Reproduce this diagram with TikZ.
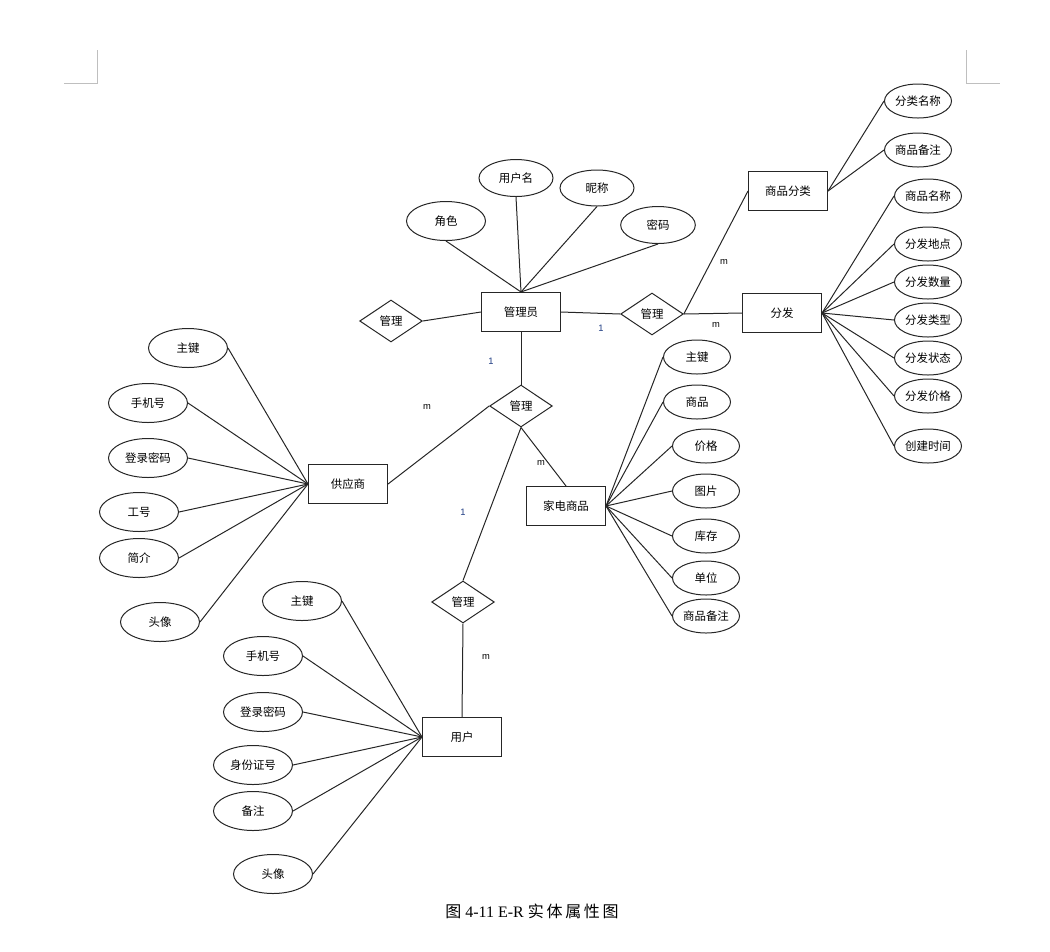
\documentclass[tikz,border=0pt]{standalone}
\usepackage{fontspec}
\setmainfont{Liberation Serif}
\newfontfamily\cjk{Noto Sans CJK SC}
\newfontfamily\lab{Liberation Sans}
\usetikzlibrary{shapes.geometric}
\tikzset{
  ln/.style={draw=black!85, line width=0.75pt},
  ent/.style={rectangle, draw=black!85, line width=0.8pt, minimum width=59.25pt, minimum height=29.25pt, inner sep=0pt, font=\cjk\fontsize{8.6}{10}\selectfont},
  attr/.style={ellipse, draw=black!85, line width=0.75pt, minimum width=59.25pt, minimum height=29.25pt, inner sep=0pt, font=\cjk\fontsize{8.6}{10}\selectfont},
  sattr/.style={ellipse, draw=black!85, line width=0.75pt, minimum width=50.25pt, minimum height=25.5pt, inner sep=0pt, font=\cjk\fontsize{8.6}{10}\selectfont},
  rel/.style={diamond, draw=black!85, line width=0.75pt, minimum width=47pt, minimum height=31.5pt, inner sep=0pt, font=\cjk\fontsize{8.6}{10}\selectfont},
  card/.style={inner sep=0pt, font=\lab\fontsize{7}{8}\selectfont},
  crn/.style={draw=black!25, line width=0.75pt}
}
\begin{document}
\begin{tikzpicture}[x=0.75pt,y=-0.75pt]
\useasboundingbox (0,0) rectangle (1050,951);
% page corner marks
\coordinate (c1a) at (97,50); \coordinate (c1b) at (97,83); \coordinate (c1c) at (64,83);
\draw[crn] (c1a) -- (c1b) -- (c1c);
\coordinate (c2a) at (966,50); \coordinate (c2b) at (966,83); \coordinate (c2c) at (1000,83);
\draw[crn] (c2a) -- (c2b) -- (c2c);

% entities
\node[ent] (admin) at (521,312) {管理员};
\node[ent] (cat) at (788,191) {商品分类};
\node[ent] (dist) at (782,313) {分发};
\node[ent] (sup) at (348,484) {供应商};
\node[ent] (prod) at (566,506) {家电商品};
\node[ent] (user) at (462,737) {用户};

% relationships
\node[rel] (r1) at (391,321) {管理};
\node[rel] (r2) at (652,314) {管理};
\node[rel] (r3) at (521,406) {管理};
\node[rel] (r4) at (463,602) {管理};

% admin attributes
\node[attr] (a1) at (446,221) {角色};
\node[attr, minimum width=55.5pt, minimum height=27.75pt] (a2) at (516,178) {用户名};
\node[attr, minimum width=55.5pt, minimum height=27pt] (a3) at (597,188) {昵称};
\node[attr, minimum width=56pt, minimum height=27.75pt] (a4) at (658,225) {密码};
\foreach \n in {a1,a2,a3,a4} \draw[ln] (\n.south) -- (admin.north);

% category attributes
\node[sattr] (c1) at (918,101) {分类名称};
\node[sattr] (c2) at (918,150) {商品备注};
\foreach \n in {c1,c2} \draw[ln] (cat.east) -- (\n.west);

% distribution attributes
\node[sattr] (d1) at (928,196) {商品名称};
\node[sattr] (d2) at (928,244) {分发地点};
\node[sattr] (d3) at (928,282) {分发数量};
\node[sattr] (d4) at (928,320) {分发类型};
\node[sattr] (d5) at (928,358) {分发状态};
\node[sattr] (d6) at (928,396) {分发价格};
\node[sattr] (d7) at (928,446) {创建时间};
\foreach \n in {d1,d2,d3,d4,d5,d6,d7} \draw[ln] (dist.east) -- (\n.west);

% supplier attributes
\node[attr] (s1) at (188,348) {主键};
\node[attr] (s2) at (148,403) {手机号};
\node[attr] (s3) at (148,458) {登录密码};
\node[attr] (s4) at (139,512) {工号};
\node[attr] (s5) at (139,558) {简介};
\node[attr] (s6) at (160,622) {头像};
\foreach \n in {s1,s2,s3,s4,s5,s6} \draw[ln] (\n.east) -- (sup.west);

% product attributes
\node[sattr] (p1) at (697,357) {主键};
\node[sattr] (p2) at (697,402) {商品};
\node[sattr] (p3) at (706,446) {价格};
\node[sattr] (p4) at (706,491) {图片};
\node[sattr] (p5) at (706,536) {库存};
\node[sattr] (p6) at (706,578) {单位};
\node[sattr] (p7) at (706,616) {商品备注};
\foreach \n in {p1,p2,p3,p4,p5,p6,p7} \draw[ln] (prod.east) -- (\n.west);

% user attributes
\node[attr] (u1) at (302,601) {主键};
\node[attr] (u2) at (263,656) {手机号};
\node[attr] (u3) at (263,712) {登录密码};
\node[attr] (u4) at (253,765) {身份证号};
\node[attr] (u5) at (253,811) {备注};
\node[attr] (u6) at (273,874) {头像};
\foreach \n in {u1,u2,u3,u4,u5,u6} \draw[ln] (\n.east) -- (user.west);

% relationship connectors
\draw[ln] (r1.east) -- (admin.west);
\draw[ln] (admin.east) -- (r2.west);
\draw[ln] (r2.east) -- (dist.west);
\draw[ln] (r2.east) -- (cat.west);
\draw[ln] (admin.south) -- (r3.north);
\draw[ln] (r3.west) -- (sup.east);
\draw[ln] (r3.south) -- (prod.north);
\draw[ln] (r3.south) -- (r4.north);
\draw[ln] (r4.south) -- (user.north);

% cardinalities
\node[card, text={rgb,255:red,30;green,60;blue,130}] (k1) at (601,328) {1};
\node[card] (k2) at (716,325) {m};
\node[card] (k3) at (724,262) {m};
\node[card, text={rgb,255:red,30;green,60;blue,130}] (k4) at (491,361) {1};
\node[card] (k5) at (427,407) {m};
\node[card] (k6) at (541,463) {m};
\node[card, text={rgb,255:red,30;green,60;blue,130}] (k7) at (463,512) {1};
\node[card] (k8) at (486,657) {m};

% caption
\node[inner sep=0pt, font=\fontsize{12}{14}\selectfont] (cap) at (532,911) {{\cjk 图} 4-11 E-R {\cjk 实\,体\,属\,性\,图}};
\end{tikzpicture}
\end{document}
